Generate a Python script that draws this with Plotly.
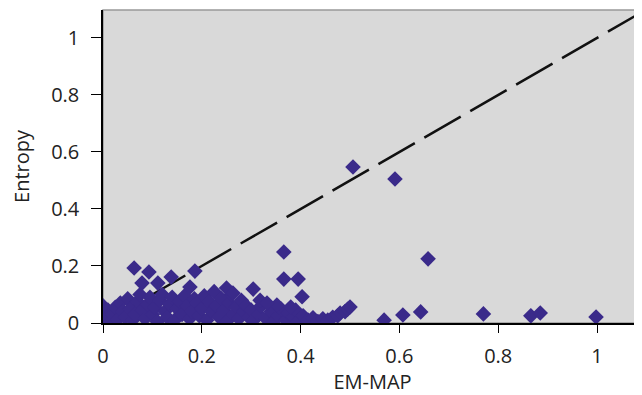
import plotly.graph_objects as go

# EM-MAP (x) vs Entropy (y) values
em_map = [
    0.0, 0.005, 0.01, 0.0, 0.015, 0.02, 0.025, 0.03, 0.035, 0.04, 0.045, 0.05, 0.055,
    0.06, 0.065, 0.07, 0.075, 0.08, 0.085, 0.09, 0.095, 0.1,
    0.105, 0.11, 0.115, 0.12, 0.125, 0.13, 0.135, 0.14, 0.145, 0.15, 0.155, 0.16,
    0.165, 0.17, 0.175, 0.18, 0.185, 0.19, 0.195, 0.2,
    0.205, 0.21, 0.215, 0.22, 0.225, 0.23, 0.235, 0.24, 0.245, 0.25, 0.255, 0.26,
    0.265, 0.27, 0.275, 0.28, 0.285, 0.29, 0.295, 0.3,
    0.305, 0.315, 0.32, 0.33, 0.34, 0.345, 0.355, 0.36, 0.37, 0.375, 0.385, 0.39,
    0.395, 0.405, 0.415, 0.425, 0.435, 0.445, 0.455, 0.465, 0.475, 0.48, 0.49, 0.495,
    0.063, 0.093, 0.138, 0.186, 0.079, 0.111, 0.176, 0.25, 0.304, 0.263, 0.403,
    0.318, 0.352, 0.38, 0.332, 0.366, 0.366, 0.395,
    0.506, 0.591, 0.658, 0.5, 0.569, 0.607, 0.643, 0.77, 0.866, 0.885, 0.998,
]
entropy = [
    0.0, 0.02, 0.045, 0.06, 0.005, 0.03, 0.055, 0.012, 0.07, 0.04, 0.02, 0.085, 0.05,
    0.01, 0.03, 0.075, 0.1, 0.045, 0.015, 0.065, 0.09, 0.03,
    0.055, 0.005, 0.08, 0.1, 0.04, 0.02, 0.065, 0.09, 0.01, 0.05, 0.075, 0.03,
    0.095, 0.06, 0.015, 0.04, 0.085, 0.07, 0.025, 0.05,
    0.095, 0.01, 0.075, 0.04, 0.11, 0.06, 0.02, 0.085, 0.045, 0.005, 0.07, 0.1,
    0.03, 0.055, 0.015, 0.08, 0.04, 0.06, 0.02, 0.045,
    0.01, 0.03, 0.06, 0.015, 0.04, 0.005, 0.025, 0.05, 0.01, 0.035, 0.02, 0.045,
    0.005, 0.025, 0.01, 0.018, 0.005, 0.015, 0.01, 0.02, 0.025, 0.035, 0.04, 0.048,
    0.193, 0.179, 0.161, 0.182, 0.14, 0.14, 0.126, 0.123, 0.119, 0.105, 0.092,
    0.08, 0.063, 0.056, 0.07, 0.249, 0.154, 0.154,
    0.547, 0.505, 0.225, 0.056, 0.01, 0.028, 0.039, 0.032, 0.025, 0.035, 0.021,
]

diag = [0, 1.2]
tick_vals = [0, 0.2, 0.4, 0.6, 0.8, 1]
tick_text = ["0", "0.2", "0.4", "0.6", "0.8", "1"]

fig = go.Figure()
fig.add_trace(go.Scatter(
    x=diag, y=diag, mode="lines",
    line=dict(color="#111111", width=2.5, dash="42px,11px"),
    hoverinfo="skip", showlegend=False,
))
fig.add_trace(go.Scatter(
    x=em_map, y=entropy, mode="markers",
    marker=dict(symbol="diamond", size=12, color="#3a2a8a", line=dict(width=0)),
    showlegend=False,
))

font = dict(family="Open Sans, Noto Sans, sans-serif", size=20, color="#222222")
fig.update_layout(
    width=634, height=387,
    margin=dict(l=95, r=0, t=2, b=72),
    paper_bgcolor="white",
    plot_bgcolor="#d9d9d9",
    font=font,
    shapes=[dict(type="rect", xref="paper", yref="paper", x0=0, y0=0, x1=1, y1=1,
                 line=dict(color="#999999", width=1.5), layer="below")],
)
fig.update_xaxes(
    range=[0, 1.091], tickvals=tick_vals, ticktext=tick_text,
    showgrid=False, zeroline=False,
    showline=True, linecolor="black", linewidth=1.5,
    ticks="outside", ticklen=8, tickcolor="black", tickwidth=1.2,
    ticklabelstandoff=6,
    title=dict(text="EM-MAP", standoff=6, font=dict(size=20)),
    tickfont=dict(size=20),
)
fig.update_yaxes(
    range=[0, 1.098], tickvals=tick_vals, ticktext=tick_text,
    showgrid=False, zeroline=False,
    showline=True, linecolor="black", linewidth=1.5,
    ticks="outside", ticklen=10, tickcolor="black", tickwidth=1.2,
    ticklabelstandoff=8,
    title=dict(text="Entropy", standoff=20, font=dict(size=20)),
    tickfont=dict(size=20),
)

fig.write_html("out.html")
